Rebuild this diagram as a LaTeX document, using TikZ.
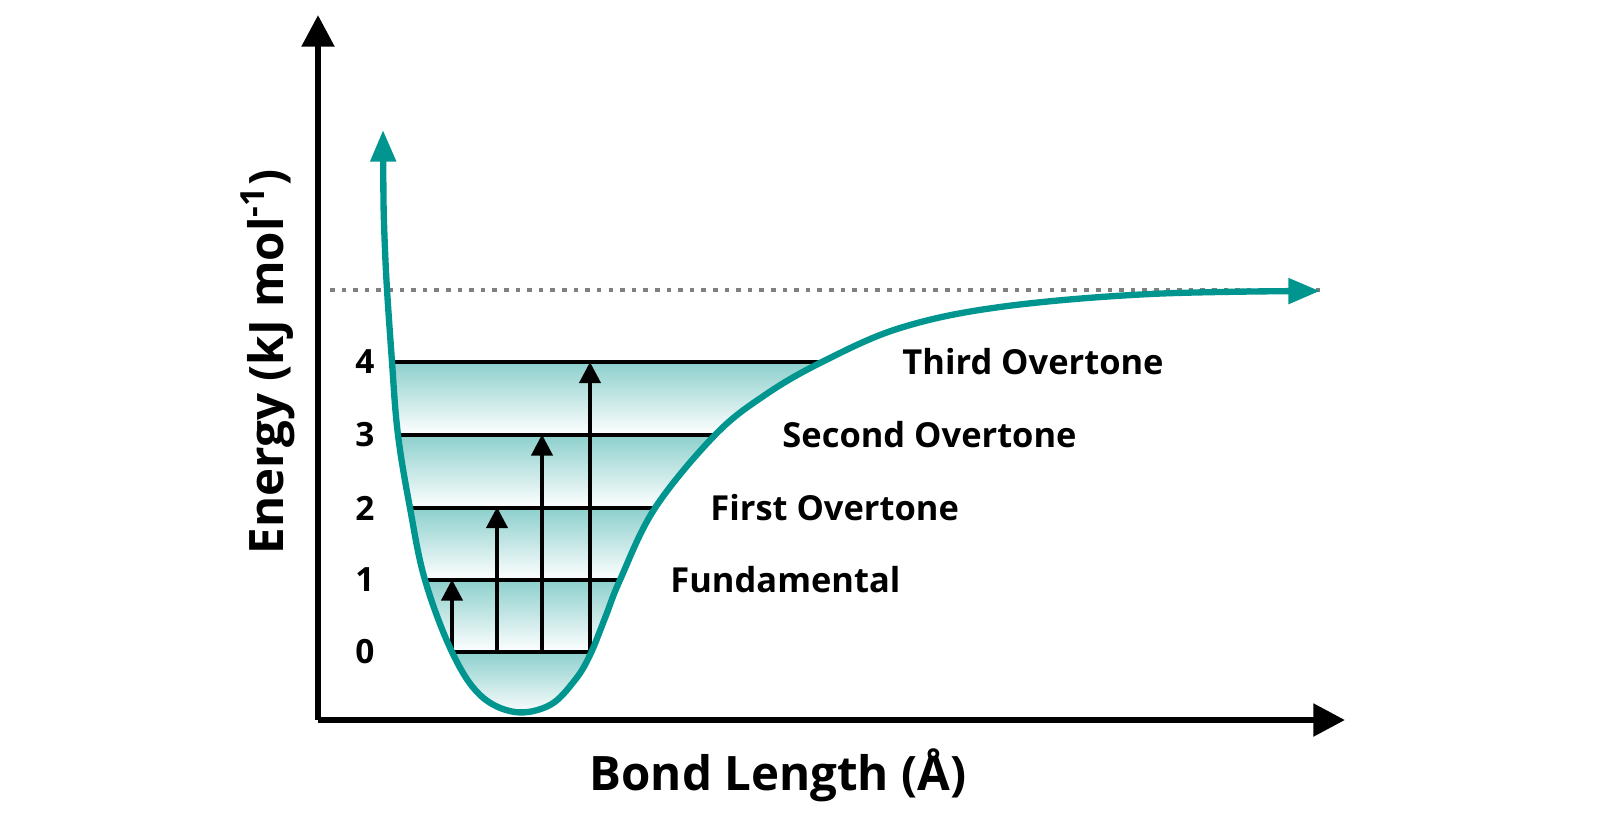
\documentclass[tikz,border=0pt]{standalone}
\usepackage{fontspec}
\setmainfont{Open Sans}
\usetikzlibrary{arrows.meta}
\definecolor{tealc}{RGB}{0,150,143}
\begin{document}
\begin{tikzpicture}[x=0.01cm,y=-0.01cm,
axis/.style={line width=1.8pt,-{Triangle[length=9pt,width=9pt]}},
level/.style={line width=1.1pt},
jump/.style={line width=1.1pt,-{Triangle[length=6pt,width=6pt]}},
lbl/.style={font=\bfseries\fontsize{9.8}{12}\selectfont,anchor=west},
num/.style={font=\bfseries\fontsize{9.5}{12}\selectfont}]
\useasboundingbox (0,0) rectangle (1600,833);
\def\wellpath{plot[smooth,tension=0.6] coordinates {(383,130) (385,250) (392,362) (398,435) (410,508) (425,580) (452,652) (480,695) (515,712) (550,705) (575,680) (590,655) (605,618) (620,580) (655,508) (715,435) (765,395) (822,362) (900,328) (1000,307) (1150,294) (1320,291)}}
% shaded bands
\begin{scope}
\clip \wellpath -- cycle;
\foreach \top/\bot in {362/435,435/508,508/580,580/652,652/715}
  \shade[top color=tealc!45,bottom color=white] (380,\top) rectangle (900,\bot);
\end{scope}
% dissociation limit
\draw[gray,dotted,line width=1.3pt] (330,290) -- (1320,290);
% axes
\coordinate (origin) at (318,720);
\coordinate (ytip) at (318,15);
\coordinate (xtip) at (1345,720);
\draw[axis] (origin) -- (ytip);
\draw[axis] (origin) -- (xtip);
% vibrational levels
\foreach \n/\y/\xa/\xb in {0/652/452/588,1/580/425/618,2/508/410/655,3/435/398/715,4/362/392/822}{
  \coordinate (l\n a) at (\xa,\y);
  \coordinate (l\n b) at (\xb,\y);
  \draw[level] (l\n a) -- (l\n b);
  \node[num] (n\n) at (365,\y) {\n};
}
% transitions
\foreach \n/\x in {1/452,2/497,3/542,4/590}{
  \coordinate (s\n) at (\x,652);
  \coordinate (e\n) at (\x,\n*-72.5+652);
  \draw[jump] (s\n) -- (e\n);
}
% potential curve
\draw[tealc,line width=1.8pt,{Triangle[length=9pt,width=7pt]}-{Triangle[length=9pt,width=7pt]}] \wellpath;
% labels
\node[lbl] (fund) at (658,580) {Fundamental};
\node[lbl] (first) at (698,508) {First Overtone};
\node[lbl] (second) at (770,435) {Second Overtone};
\node[lbl] (third) at (890,362) {Third Overtone};
\node[font=\bfseries\fontsize{13.5}{16}\selectfont] (xlab) at (778,775) {Bond Length (Å)};
\node[font=\bfseries\fontsize{13.5}{16}\selectfont,rotate=90] (ylab) at (268,362) {Energy (kJ mol\textsuperscript{-1})};
\end{tikzpicture}
\end{document}
